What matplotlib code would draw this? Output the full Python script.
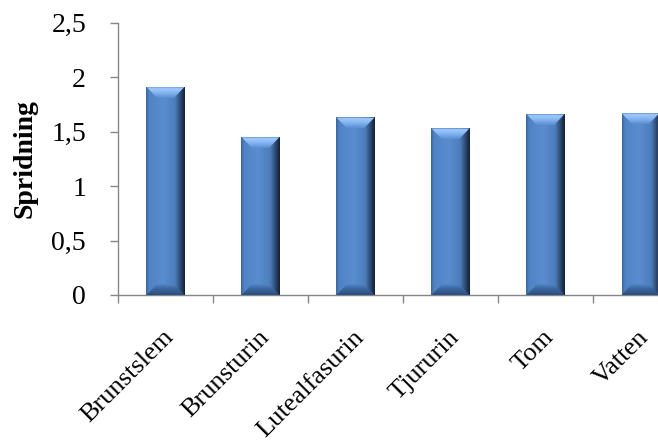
import matplotlib
matplotlib.use('Agg')

import matplotlib.pyplot as plt
import matplotlib.transforms as mtransforms
from matplotlib.colors import LinearSegmentedColormap
from matplotlib.patches import Polygon
import numpy as np

# Data
categories = ['Brunstslem', 'Brunsturin', 'Lutealfasurin', 'Tjururin', 'Tom', 'Vatten']
spridning = [1.91, 1.45, 1.63, 1.53, 1.66, 1.67]
y_ticks = [0, 0.5, 1, 1.5, 2, 2.5]
y_tick_labels = ['0', '0,5', '1', '1,5', '2', '2,5']

plt.rcParams['font.family'] = ['Liberation Serif', 'DejaVu Serif']

fig = plt.figure(figsize=(6.58, 4.44), dpi=100)
# axis runs past the right edge of the picture like in the reference
ax = fig.add_axes([0.1793, 0.3356, 1.0456 - 0.1793, 0.9489 - 0.3356])

x = np.arange(len(categories))
bar_width = 0.4
bars = ax.bar(x, spridning, width=bar_width, color='#4F81BD', zorder=2)

# Shading for the bevelled bars
side_cmap = LinearSegmentedColormap.from_list('side', [
    (0.0, '#3A659B'), (0.08, '#4F83C4'), (0.45, '#5A8DD0'),
    (0.75, '#4C7DBA'), (0.88, '#2E4C75'), (1.0, '#141F30')])
top_cmap = LinearSegmentedColormap.from_list('top', [
    (0.0, '#5A8DD0'), (0.5, '#86B6F2'), (0.85, '#9FC9FA'), (1.0, '#6C9DDC')])
bot_cmap = LinearSegmentedColormap.from_list('bot', [
    (0.0, '#2C4E7E'), (0.6, '#3D67A0'), (1.0, '#5287C8')])

bevel_x = 0.11    # in category units
bevel_y = 0.1     # in data units
grad_h = np.linspace(0, 1, 256).reshape(1, -1)
grad_v = np.linspace(0, 1, 256).reshape(-1, 1)

for b in bars:
    x0, y0 = b.get_x(), b.get_y()
    w, h = b.get_width(), b.get_height()
    x1, y1 = x0 + w, y0 + h

    im = ax.imshow(grad_h, cmap=side_cmap, aspect='auto', origin='lower',
                   extent=(x0, x1, y0, y1), zorder=3)
    im.set_clip_path(b)

    top = Polygon([(x0, y1), (x1, y1), (x1 - bevel_x, y1 - bevel_y),
                   (x0 + bevel_x, y1 - bevel_y)], closed=True,
                  facecolor='none', edgecolor='none')
    ax.add_patch(top)
    im_t = ax.imshow(grad_v, cmap=top_cmap, aspect='auto', origin='lower',
                     extent=(x0, x1, y1 - bevel_y, y1), zorder=4)
    im_t.set_clip_path(top)

    bot = Polygon([(x0, y0), (x1, y0), (x1 - bevel_x, y0 + bevel_y),
                   (x0 + bevel_x, y0 + bevel_y)], closed=True,
                  facecolor='none', edgecolor='none')
    ax.add_patch(bot)
    im_b = ax.imshow(grad_v, cmap=bot_cmap, aspect='auto', origin='lower',
                     extent=(x0, x1, y0, y0 + bevel_y), zorder=4)
    im_b.set_clip_path(bot)

ax.set_xlim(-0.5, len(categories) - 0.5)
ax.set_ylim(0, 2.5)

# Axes styling
for side in ['top', 'right']:
    ax.spines[side].set_visible(False)
for side in ['left', 'bottom']:
    ax.spines[side].set_color('#868686')
    ax.spines[side].set_linewidth(1.0)

ax.set_yticks(y_ticks)
ax.set_yticklabels(y_tick_labels, fontsize=20)
ax.tick_params(axis='y', direction='out', length=6, width=1, color='#868686', pad=17)

# category boundaries carry the tick marks
ax.set_xticks(np.arange(len(categories) + 1) - 0.5)
ax.set_xticklabels([])
ax.tick_params(axis='x', direction='out', length=6, width=1, color='#868686')

offset = mtransforms.ScaledTranslation(5 / 100, -39 / 100, fig.dpi_scale_trans)
for xi, name in zip(x, categories):
    ax.text(xi, 0, name, rotation=45, ha='right', va='center',
            rotation_mode='anchor', fontsize=19,
            transform=ax.get_xaxis_transform() + offset)

ax.set_ylabel('Spridning', fontsize=20, fontweight='bold')
ax.yaxis.set_label_coords(-0.142, 0.5)

plt.savefig('out.png', dpi=100)
